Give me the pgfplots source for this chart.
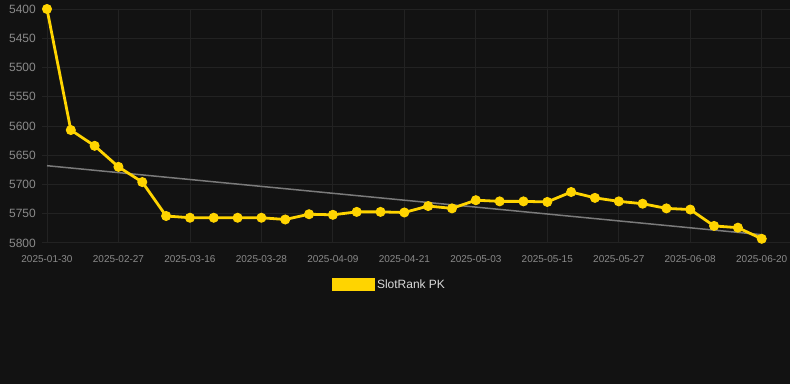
\documentclass[border=0pt]{standalone}
\usepackage{pgfplots}
\pgfplotsset{compat=1.18}
\usepackage{fontspec}
\setmainfont{Liberation Sans}
\definecolor{bg}{HTML}{121212}
\definecolor{gold}{HTML}{FFD400}
\definecolor{tick}{HTML}{8A8A8A}
\definecolor{gridc}{HTML}{222222}
\definecolor{trend}{HTML}{7A7A7A}
\begin{document}
\begin{tikzpicture}[x=1pt,y=1pt]
\fill[bg] (0,0) rectangle (790,384);
\begin{axis}[
  at={(42pt,141pt)}, anchor=south west,
  scale only axis, width=748pt, height=234pt,
  xmin=-0.21, xmax=31.17, ymin=5400, ymax=5800, y dir=reverse,
  clip=false,
  axis line style={draw=none},
  tick style={draw=none},
  grid=major, grid style={gridc, line width=0.8pt},
  xtick={0,3,...,30},
  xticklabels={2025-01-30,2025-02-27,2025-03-16,2025-03-28,2025-04-09,2025-04-21,2025-05-03,2025-05-15,2025-05-27,2025-06-08,2025-06-20},
  ytick={5400,5450,...,5800},
  /pgf/number format/assume math mode=true,
  /pgf/number format/set thousands separator={},
  yticklabel style={font=\fontsize{12}{12}\selectfont, text=tick, inner sep=0pt, anchor=east, xshift=-6pt},
  xticklabel style={font=\fontsize{10}{10}\selectfont, text=tick, inner sep=0pt, anchor=north, yshift=-12pt},
  legend style={at={(axis description cs:0.465,-0.179)}, anchor=center, draw=none, fill=none,
    text=white!85!black, font=\fontsize{12}{12}\selectfont},
  legend cell align=left,
]
\addplot[trend, line width=1.5pt, forget plot] coordinates {(0,5668) (30,5786)};
\addplot[gold, line width=2.8pt, mark=*, mark size=4.5pt, mark options={fill=gold, draw=gold, line width=1pt},
  legend image code/.code={\fill[gold] (0pt,-5pt) rectangle (40pt,5pt);}]
coordinates {
(0,5400) (1,5607) (2,5634) (3,5670) (4,5696) (5,5754) (6,5757) (7,5757) (8,5757) (9,5757)
(10,5760) (11,5751) (12,5752) (13,5747) (14,5747) (15,5748) (16,5737) (17,5741) (18,5727) (19,5729)
(20,5729) (21,5730) (22,5713) (23,5723) (24,5729) (25,5733) (26,5741) (27,5743) (28,5771) (29,5774) (30,5793)
};
\addlegendentry{SlotRank PK}
\end{axis}
\end{tikzpicture}
\end{document}
